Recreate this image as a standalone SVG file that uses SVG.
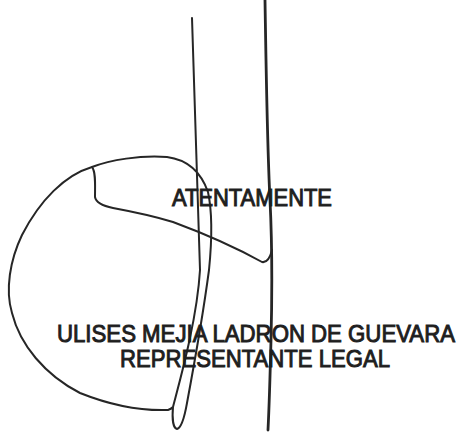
<svg xmlns="http://www.w3.org/2000/svg" width="459" height="435" viewBox="0 0 459 435">
<style>
.t{font-family:"Liberation Sans",Arial,sans-serif;font-size:24.5px;fill:#1e1e1e;stroke:#1e1e1e;stroke-width:1}
.s{fill:none;stroke:#262626;stroke-width:2;stroke-linecap:round;stroke-linejoin:round}
</style>
<rect width="459" height="435" fill="#ffffff"/>
<g id="signature">
<path class="s" d="M192,18 C194,90 197,180 200,270 C197,320 180,380 173,407 C172,418 173,428 177,429 C181,428 184,420 187,403 C195,360 205,300 209,270 C212,240 213,215 208,192 C202,175 190,160 167,157 C140,155 110,160 92,167 C65,175 40,200 22,235 C10,260 5,290 12,313 C20,345 45,375 80,393 C110,405 140,411 168,410 C171,409 172,408 173,407"/>
<path class="s" d="M92,167 C96,172 95,185 95,197 C96,203 103,206 113,208 C140,213 160,218 173,222 C200,232 235,247 262,262 C267,263 270,258 272,250"/>
<path class="s" style="stroke-width:2.8" d="M265,0 C266,60 267,140 270,200 C273,260 272,300 271,340 C270,380 269,410 268,430"/>
</g>
<g id="text">
<text class="t" x="172" y="206" textLength="160" lengthAdjust="spacingAndGlyphs">ATENTAMENTE</text>
<text class="t" x="57" y="342" textLength="398" lengthAdjust="spacingAndGlyphs">ULISES MEJIA LADRON DE GUEVARA</text>
<text class="t" x="120" y="367" textLength="270" lengthAdjust="spacingAndGlyphs">REPRESENTANTE LEGAL</text>
</g>
</svg>
